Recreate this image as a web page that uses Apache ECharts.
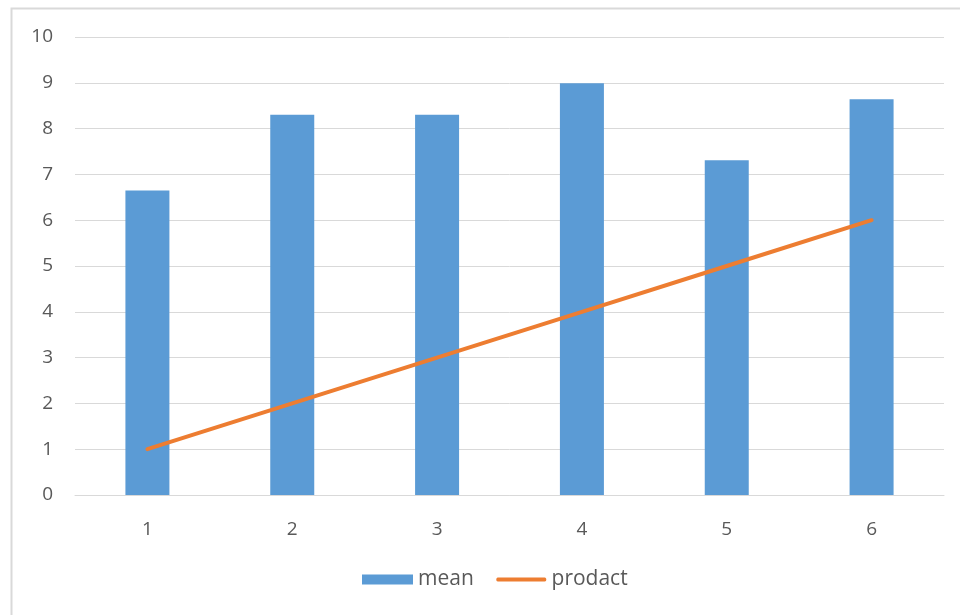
<!DOCTYPE html>
<html>
<head>
<meta charset="utf-8">
<script src="https://cdn.jsdelivr.net/npm/echarts@6/dist/echarts.min.js"></script>
<style>
html,body{margin:0;padding:0;background:#fff;}
#c{width:960px;height:615px;}
</style>
</head>
<body>
<div id="c"></div>
<script>
var categories = ['1', '2', '3', '4', '5', '6'];
var meanValues = [6.65, 8.3, 8.3, 8.99, 7.31, 8.64];
var prodactValues = [1, 2, 3, 4, 5, 6];
var yTicks = [0, 1, 2, 3, 4, 5, 6, 7, 8, 9, 10];

var font = '"Open Sans", "Liberation Sans", sans-serif';
var lineIcon = 'path://M0,0L0.01,0L0,0.01Z M2,3L49,3C51,3 51,7 49,7L2,7C0,7 0,3 2,3Z M0,10L0.01,10L0,9.99Z';
var chart = echarts.init(document.getElementById('c'), null, {renderer: 'canvas'});
chart.setOption({
  animation: false,
  backgroundColor: '#ffffff',
  graphic: [{
    type: 'rect',
    shape: {x: 11.5, y: 8.5, width: 980, height: 640},
    style: {fill: 'none', stroke: '#d9d9d9', lineWidth: 2},
    silent: true
  }],
  grid: {left: 75, right: 16, top: 37, bottom: 120, containLabel: false},
  legend: {
    left: 362,
    top: 569,
    padding: 0,
    itemWidth: 51,
    itemHeight: 10,
    itemGap: 22,
    textStyle: {color: '#595959', fontSize: 21, fontFamily: font},
    data: [
      {name: 'mean', icon: 'rect'},
      {name: 'prodact', icon: lineIcon}
    ]
  },
  xAxis: {
    type: 'category',
    data: categories,
    axisLine: {show: true, lineStyle: {color: '#d9d9d9', width: 1}},
    axisTick: {show: false},
    axisLabel: {color: '#595959', fontSize: 19, fontFamily: font, margin: 25}
  },
  yAxis: {
    type: 'value',
    min: yTicks[0],
    max: yTicks[yTicks.length - 1],
    interval: 1,
    axisLine: {show: false},
    axisTick: {show: false},
    axisLabel: {color: '#595959', fontSize: 19, fontFamily: font, margin: 22},
    splitLine: {lineStyle: {color: '#d9d9d9', width: 1}}
  },
  series: [
    {
      name: 'mean',
      type: 'bar',
      data: meanValues,
      barWidth: 44,
      itemStyle: {color: '#5b9bd5'}
    },
    {
      name: 'prodact',
      type: 'line',
      data: prodactValues,
      symbol: 'none',
      showSymbol: false,
      lineStyle: {color: '#ed7d31', width: 4, cap: 'round'},
      itemStyle: {color: '#ed7d31'}
    }
  ]
});
</script>
</body>
</html>
